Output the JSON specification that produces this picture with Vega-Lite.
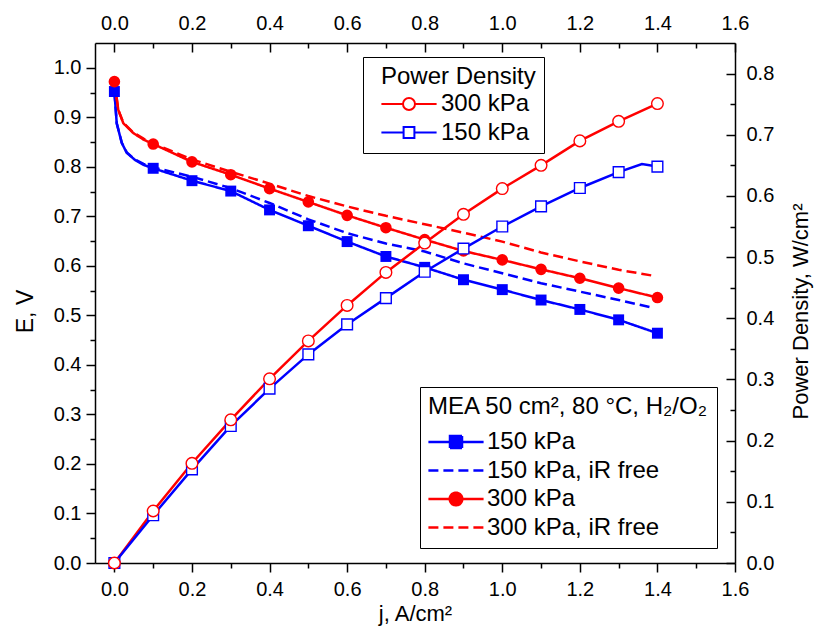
{
  "$schema": "https://vega.github.io/schema/vega-lite/v6.json",
  "width": 640,
  "height": 520,
  "autosize": "none",
  "padding": {"left": 95, "top": 43, "right": 82, "bottom": 72},
  "background": "white",
  "config": {
    "font": "Liberation Sans",
    "view": {"stroke": null},
    "axis": {
      "domainColor": "black", "domainWidth": 1.5,
      "tickColor": "black", "tickWidth": 1.5,
      "labelColor": "black", "labelFontSize": 20,
      "titleColor": "black", "titleFontSize": 22, "titleFontWeight": "normal",
      "grid": false, "labelFlush": false, "labelOverlap": false, "labelBound": false
    },
    "legend": {
      "titleFontSize": 24, "titleFontWeight": "normal", "titleColor": "black", "titleLimit": 500,
      "labelFontSize": 24, "labelColor": "black", "labelLimit": 400,
      "strokeColor": "black", "fillColor": "white", "padding": 8,
      "symbolSize": 144, "rowPadding": 4.5
    }
  },
  "datasets": {
    "ecurve": [
      {"j": 0, "E": 0.952, "series": "150 kPa"},
      {"j": 0.006, "E": 0.888, "series": "150 kPa"},
      {"j": 0.019, "E": 0.848, "series": "150 kPa"},
      {"j": 0.032, "E": 0.828, "series": "150 kPa"},
      {"j": 0.053, "E": 0.814, "series": "150 kPa"},
      {"j": 0.075, "E": 0.804, "series": "150 kPa"},
      {"j": 0.1, "E": 0.797, "series": "150 kPa"},
      {"j": 0.2, "E": 0.772, "series": "150 kPa"},
      {"j": 0.3, "E": 0.751, "series": "150 kPa"},
      {"j": 0.4, "E": 0.713, "series": "150 kPa"},
      {"j": 0.5, "E": 0.681, "series": "150 kPa"},
      {"j": 0.6, "E": 0.649, "series": "150 kPa"},
      {"j": 0.7, "E": 0.619, "series": "150 kPa"},
      {"j": 0.8, "E": 0.597, "series": "150 kPa"},
      {"j": 0.9, "E": 0.572, "series": "150 kPa"},
      {"j": 1.0, "E": 0.552, "series": "150 kPa"},
      {"j": 1.1, "E": 0.531, "series": "150 kPa"},
      {"j": 1.2, "E": 0.512, "series": "150 kPa"},
      {"j": 1.3, "E": 0.491, "series": "150 kPa"},
      {"j": 1.4, "E": 0.464, "series": "150 kPa"},
      {"j": 0, "E": 0.952, "series": "150 kPa, iR free"},
      {"j": 0.006, "E": 0.888, "series": "150 kPa, iR free"},
      {"j": 0.019, "E": 0.849, "series": "150 kPa, iR free"},
      {"j": 0.032, "E": 0.829, "series": "150 kPa, iR free"},
      {"j": 0.053, "E": 0.815, "series": "150 kPa, iR free"},
      {"j": 0.075, "E": 0.806, "series": "150 kPa, iR free"},
      {"j": 0.1, "E": 0.799, "series": "150 kPa, iR free"},
      {"j": 0.2, "E": 0.780, "series": "150 kPa, iR free"},
      {"j": 0.3, "E": 0.757, "series": "150 kPa, iR free"},
      {"j": 0.4, "E": 0.727, "series": "150 kPa, iR free"},
      {"j": 0.5, "E": 0.694, "series": "150 kPa, iR free"},
      {"j": 0.6, "E": 0.666, "series": "150 kPa, iR free"},
      {"j": 0.7, "E": 0.645, "series": "150 kPa, iR free"},
      {"j": 0.8, "E": 0.629, "series": "150 kPa, iR free"},
      {"j": 0.9, "E": 0.605, "series": "150 kPa, iR free"},
      {"j": 1.0, "E": 0.585, "series": "150 kPa, iR free"},
      {"j": 1.1, "E": 0.565, "series": "150 kPa, iR free"},
      {"j": 1.2, "E": 0.548, "series": "150 kPa, iR free"},
      {"j": 1.3, "E": 0.531, "series": "150 kPa, iR free"},
      {"j": 1.39, "E": 0.515, "series": "150 kPa, iR free"},
      {"j": 0, "E": 0.972, "series": "300 kPa"},
      {"j": 0.010, "E": 0.915, "series": "300 kPa"},
      {"j": 0.023, "E": 0.888, "series": "300 kPa"},
      {"j": 0.049, "E": 0.868, "series": "300 kPa"},
      {"j": 0.075, "E": 0.855, "series": "300 kPa"},
      {"j": 0.1, "E": 0.846, "series": "300 kPa"},
      {"j": 0.2, "E": 0.810, "series": "300 kPa"},
      {"j": 0.3, "E": 0.784, "series": "300 kPa"},
      {"j": 0.4, "E": 0.756, "series": "300 kPa"},
      {"j": 0.5, "E": 0.729, "series": "300 kPa"},
      {"j": 0.6, "E": 0.702, "series": "300 kPa"},
      {"j": 0.7, "E": 0.677, "series": "300 kPa"},
      {"j": 0.8, "E": 0.653, "series": "300 kPa"},
      {"j": 0.9, "E": 0.630, "series": "300 kPa"},
      {"j": 1.0, "E": 0.612, "series": "300 kPa"},
      {"j": 1.1, "E": 0.593, "series": "300 kPa"},
      {"j": 1.2, "E": 0.575, "series": "300 kPa"},
      {"j": 1.3, "E": 0.555, "series": "300 kPa"},
      {"j": 1.4, "E": 0.536, "series": "300 kPa"},
      {"j": 0, "E": 0.972, "series": "300 kPa, iR free"},
      {"j": 0.010, "E": 0.915, "series": "300 kPa, iR free"},
      {"j": 0.023, "E": 0.889, "series": "300 kPa, iR free"},
      {"j": 0.049, "E": 0.869, "series": "300 kPa, iR free"},
      {"j": 0.075, "E": 0.857, "series": "300 kPa, iR free"},
      {"j": 0.1, "E": 0.847, "series": "300 kPa, iR free"},
      {"j": 0.2, "E": 0.815, "series": "300 kPa, iR free"},
      {"j": 0.3, "E": 0.790, "series": "300 kPa, iR free"},
      {"j": 0.4, "E": 0.766, "series": "300 kPa, iR free"},
      {"j": 0.5, "E": 0.741, "series": "300 kPa, iR free"},
      {"j": 0.6, "E": 0.720, "series": "300 kPa, iR free"},
      {"j": 0.7, "E": 0.701, "series": "300 kPa, iR free"},
      {"j": 0.8, "E": 0.684, "series": "300 kPa, iR free"},
      {"j": 0.9, "E": 0.667, "series": "300 kPa, iR free"},
      {"j": 1.0, "E": 0.649, "series": "300 kPa, iR free"},
      {"j": 1.1, "E": 0.627, "series": "300 kPa, iR free"},
      {"j": 1.2, "E": 0.609, "series": "300 kPa, iR free"},
      {"j": 1.3, "E": 0.592, "series": "300 kPa, iR free"},
      {"j": 1.39, "E": 0.580, "series": "300 kPa, iR free"}
    ],
    "power": [
      {"j": 0, "P": 0, "series": "300 kPa"},
      {"j": 0.1, "P": 0.085, "series": "300 kPa"},
      {"j": 0.2, "P": 0.163, "series": "300 kPa"},
      {"j": 0.3, "P": 0.234, "series": "300 kPa"},
      {"j": 0.4, "P": 0.301, "series": "300 kPa"},
      {"j": 0.5, "P": 0.363, "series": "300 kPa"},
      {"j": 0.6, "P": 0.421, "series": "300 kPa"},
      {"j": 0.7, "P": 0.475, "series": "300 kPa"},
      {"j": 0.8, "P": 0.523, "series": "300 kPa"},
      {"j": 0.9, "P": 0.570, "series": "300 kPa"},
      {"j": 1.0, "P": 0.612, "series": "300 kPa"},
      {"j": 1.1, "P": 0.650, "series": "300 kPa"},
      {"j": 1.2, "P": 0.690, "series": "300 kPa"},
      {"j": 1.3, "P": 0.722, "series": "300 kPa"},
      {"j": 1.4, "P": 0.751, "series": "300 kPa"},
      {"j": 0, "P": 0, "series": "150 kPa"},
      {"j": 0.1, "P": 0.078, "series": "150 kPa"},
      {"j": 0.2, "P": 0.153, "series": "150 kPa"},
      {"j": 0.3, "P": 0.224, "series": "150 kPa"},
      {"j": 0.4, "P": 0.285, "series": "150 kPa"},
      {"j": 0.5, "P": 0.341, "series": "150 kPa"},
      {"j": 0.6, "P": 0.390, "series": "150 kPa"},
      {"j": 0.7, "P": 0.433, "series": "150 kPa"},
      {"j": 0.8, "P": 0.476, "series": "150 kPa"},
      {"j": 0.9, "P": 0.514, "series": "150 kPa"},
      {"j": 1.0, "P": 0.550, "series": "150 kPa"},
      {"j": 1.1, "P": 0.583, "series": "150 kPa"},
      {"j": 1.2, "P": 0.613, "series": "150 kPa"},
      {"j": 1.3, "P": 0.639, "series": "150 kPa"},
      {"j": 1.36, "P": 0.652, "series": "150 kPa"},
      {"j": 1.4, "P": 0.648, "series": "150 kPa"}
    ]
  },
  "layer": [
    {
      "data": {"name": "ecurve"},
      "encoding": {
        "x": {
          "field": "j", "type": "quantitative",
          "scale": {"domain": [-0.05, 1.6], "nice": false, "zero": false},
          "axis": {
            "orient": "bottom",
            "values": [0, 0.1, 0.2, 0.3, 0.4, 0.5, 0.6, 0.7, 0.8, 0.9, 1.0, 1.1, 1.2, 1.3, 1.4, 1.5, 1.6],
            "labelExpr": "round(datum.value*10)%2==0 ? format(datum.value,'.1f') : ''",
            "tickSize": {"condition": {"test": "round(datum.value*10)%2==1", "value": 5}, "value": 9},
            "labelPadding": 7,
            "title": "j, A/cm²",
            "titleX": 320, "titleY": 57, "titleBaseline": "alphabetic", "titleAlign": "center"
          }
        },
        "y": {
          "field": "E", "type": "quantitative",
          "scale": {"domain": [0, 1.05], "nice": false},
          "axis": {
            "orient": "left",
            "values": [0, 0.05, 0.1, 0.15, 0.2, 0.25, 0.3, 0.35, 0.4, 0.45, 0.5, 0.55, 0.6, 0.65, 0.7, 0.75, 0.8, 0.85, 0.9, 0.95, 1.0],
            "labelExpr": "round(datum.value*20)%2==0 ? format(datum.value,'.1f') : ''",
            "tickSize": {"condition": {"test": "round(datum.value*20)%2==1", "value": 5}, "value": 9},
            "labelPadding": 5,
            "title": "E, V",
            "titleFontSize": 23,
            "titleAngle": 270, "titleX": -63, "titleY": 268, "titleBaseline": "alphabetic", "titleAlign": "center"
          }
        }
      },
      "layer": [
        {
          "mark": {"type": "line", "strokeWidth": 2.5},
          "encoding": {
            "color": {
              "field": "series", "type": "nominal",
              "scale": {"domain": ["150 kPa", "150 kPa, iR free", "300 kPa", "300 kPa, iR free"], "range": ["#0000ff", "#0000ff", "#ff0000", "#ff0000"]},
              "legend": {
                "orient": "none", "legendX": 325, "legendY": 344,
                "title": "MEA 50 cm², 80 °C, H₂/O₂", "titlePadding": 11,
                "symbolOffset": 16, "labelOffset": 19, "symbolStrokeWidth": 2.5,
                "encode": {"symbols": {"update": {
                  "shape": {"signal": "datum.value == '150 kPa' ? 'M-4.6,0H4.6M-1,-1H1V1H-1Z' : datum.value == '300 kPa' ? 'M-4.6,0H4.6M-1.05,0A1.05,1.05,0,1,1,1.05,0A1.05,1.05,0,1,1,-1.05,0Z' : 'M-4.6,0H4.6'"},
                  "fill": {"signal": "datum.value == '150 kPa' ? '#0000ff' : datum.value == '300 kPa' ? '#ff0000' : 'transparent'"}
                }}}
              }
            },
            "strokeDash": {
              "field": "series", "type": "nominal",
              "scale": {"domain": ["150 kPa", "150 kPa, iR free", "300 kPa", "300 kPa, iR free"], "range": [[1, 0], [10, 5], [1, 0], [10, 5]]},
              "legend": {
                "orient": "none", "legendX": 325, "legendY": 344,
                "title": "MEA 50 cm², 80 °C, H₂/O₂", "titlePadding": 11,
                "symbolOffset": 16, "labelOffset": 19, "symbolStrokeWidth": 2.5
              }
            }
          }
        },
        {
          "transform": [{"filter": "datum.series == '150 kPa' && abs(datum.j*10 - round(datum.j*10)) < 0.001"}],
          "mark": {"type": "point", "shape": "square", "filled": true, "color": "#0000ff", "size": 120, "opacity": 1}
        },
        {
          "transform": [{"filter": "datum.series == '300 kPa' && abs(datum.j*10 - round(datum.j*10)) < 0.001"}],
          "mark": {"type": "point", "shape": "circle", "filled": true, "color": "#ff0000", "size": 135, "opacity": 1}
        }
      ]
    },
    {
      "data": {"name": "power"},
      "encoding": {
        "x": {
          "field": "j", "type": "quantitative",
          "scale": {"domain": [-0.05, 1.6], "nice": false, "zero": false},
          "axis": {
            "orient": "top",
            "values": [0, 0.1, 0.2, 0.3, 0.4, 0.5, 0.6, 0.7, 0.8, 0.9, 1.0, 1.1, 1.2, 1.3, 1.4, 1.5, 1.6],
            "labelExpr": "round(datum.value*10)%2==0 ? format(datum.value,'.1f') : ''",
            "tickSize": {"condition": {"test": "round(datum.value*10)%2==1", "value": -5}, "value": -9},
            "labelPadding": 19,
            "title": null
          }
        },
        "y": {
          "field": "P", "type": "quantitative",
          "scale": {"domain": [0, 0.85], "nice": false},
          "axis": {
            "orient": "right",
            "values": [0, 0.05, 0.1, 0.15, 0.2, 0.25, 0.3, 0.35, 0.4, 0.45, 0.5, 0.55, 0.6, 0.65, 0.7, 0.75, 0.8],
            "labelExpr": "round(datum.value*20)%2==0 ? format(datum.value,'.1f') : ''",
            "tickSize": {"condition": {"test": "round(datum.value*20)%2==1", "value": -5}, "value": -9},
            "labelPadding": 20,
            "title": "Power Density, W/cm²",
            "titleAngle": 270, "titleX": 72, "titleY": 268, "titleBaseline": "alphabetic", "titleAlign": "center"
          }
        }
      },
      "layer": [
        {
          "mark": {"type": "line", "strokeWidth": 2.5},
          "encoding": {
            "stroke": {
              "field": "series", "type": "nominal",
              "scale": {"domain": ["300 kPa", "150 kPa"], "range": ["#ff0000", "#0000ff"]},
              "legend": {
                "orient": "none", "legendX": 268, "legendY": 14,
                "title": "Power Density", "titlePadding": 3,
                "symbolOffset": 26, "labelOffset": 20, "symbolStrokeWidth": 2,
                "encode": {
                  "title": {"update": {"dx": {"value": 10}}},
                  "symbols": {"update": {
                    "shape": {"signal": "datum.value == '300 kPa' ? 'M-4.6,0H-1M1,0H4.6M-1,0A1,1,0,1,1,1,0A1,1,0,1,1,-1,0Z' : 'M-4.6,0H-0.9M0.9,0H4.6M-0.9,-0.9H0.9V0.9H-0.9Z'"},
                    "fill": {"value": "white"}
                  }}
                }
              }
            }
          }
        },
        {
          "transform": [{"filter": "datum.series == '150 kPa' && abs(datum.j*10 - round(datum.j*10)) < 0.001"}],
          "mark": {"type": "point", "shape": "square", "filled": true, "fill": "white", "stroke": "#0000ff", "strokeWidth": 1.4, "size": 115, "opacity": 1}
        },
        {
          "transform": [{"filter": "datum.series == '300 kPa' && abs(datum.j*10 - round(datum.j*10)) < 0.001"}],
          "mark": {"type": "point", "shape": "circle", "filled": true, "fill": "white", "stroke": "#ff0000", "strokeWidth": 1.4, "size": 135, "opacity": 1}
        }
      ]
    }
  ],
  "resolve": {
    "scale": {"x": "independent", "y": "independent"},
    "axis": {"x": "independent", "y": "independent"}
  }
}
